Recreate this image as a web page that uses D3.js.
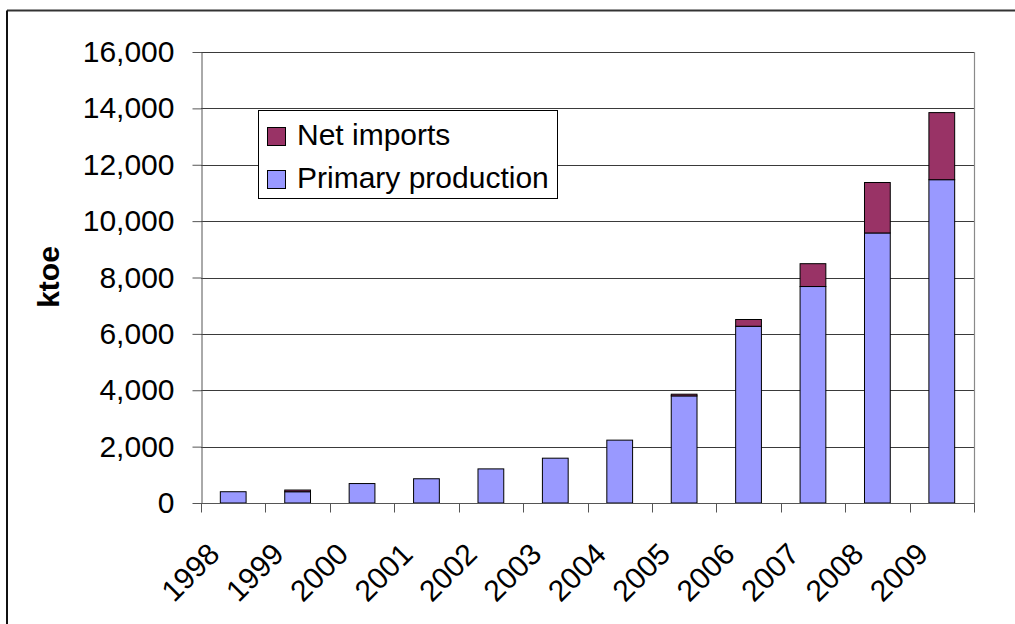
<!DOCTYPE html>
<html lang="en">

<head>
  <meta charset="UTF-8">
  <title>ktoe</title>
  <script src="https://d3js.org/d3.v7.min.js"></script>
  <style>
    body { margin: 0; background: #fff; }
    text { font-family: "Liberation Sans", Arial, sans-serif; fill: #000; }
  </style>
</head>

<body>

  <div id="d3Graph"></div>

  <script>
    var years = ["1998", "1999", "2000", "2001", "2002", "2003", "2004", "2005", "2006", "2007", "2008", "2009"];
    var primaryProduction = [400, 400, 690, 860, 1210, 1590, 2230, 3800, 6270, 7680, 9580, 11470];
    var netImports = [0, 60, 0, 0, 0, 0, 0, 60, 240, 810, 1790, 2380];
    var yTicks = [0, 2000, 4000, 6000, 8000, 10000, 12000, 14000, 16000];
    var seriesNames = ["Net imports", "Primary production"];

    var width = 1015;
    var height = 624;
    var plotLeft = 201, plotRight = 974, plotTop = 52, plotBottom = 503;

    var svg = d3.select("#d3Graph").append("svg")
      .attr("width", width)
      .attr("height", height);

    // cropped frame: only top and left edges visible
    svg.append("line").attr("x1", 7).attr("y1", 10.5).attr("x2", width).attr("y2", 10.5)
      .attr("stroke", "#333").attr("stroke-width", 2);
    svg.append("line").attr("x1", 7).attr("y1", 10.5).attr("x2", 7).attr("y2", height)
      .attr("stroke", "#111").attr("stroke-width", 2);

    var x = d3.scaleBand().domain(years).range([plotLeft, plotRight]).paddingInner(0.6).paddingOuter(0.3);
    var xTickScale = d3.scaleLinear().domain([0, years.length]).range([plotLeft, plotRight]);
    var y = d3.scaleLinear().domain([0, 16000]).range([plotBottom, plotTop]);

    // gridlines
    svg.append("g").selectAll("line").data(yTicks.slice(1)).join("line")
      .attr("x1", plotLeft).attr("x2", plotRight)
      .attr("y1", function (d) { return Math.round(y(d)) + 0.5 })
      .attr("y2", function (d) { return Math.round(y(d)) + 0.5 })
      .attr("stroke", "#3a3a3a").attr("stroke-width", 1);

    // plot area right border
    svg.append("line").attr("x1", plotRight + 0.5).attr("x2", plotRight + 0.5).attr("y1", plotTop).attr("y2", plotBottom)
      .attr("stroke", "#8a8a8a").attr("stroke-width", 1.2);

    var stack = d3.stack().keys(["primary", "imports"]);
    var rows = years.map(function (yr, i) {
      return { year: yr, primary: primaryProduction[i], imports: netImports[i] }
    });
    var layers = stack(rows);
    var colors = { primary: "#9999ff", imports: "#993366" };

    svg.append("g").selectAll("g").data(layers).join("g")
      .attr("fill", function (d) { return colors[d.key] })
      .selectAll("rect").data(function (d) { return d.filter(function (p) { return p[1] > p[0] }) }).join("rect")
      .attr("x", function (d) { return x(d.data.year) })
      .attr("width", x.bandwidth())
      .attr("y", function (d) { return y(d[1]) })
      .attr("height", function (d) { return y(d[0]) - y(d[1]) })
      .attr("stroke", "#000").attr("stroke-width", 1);

    // y axis
    var yAxis = svg.append("g").attr("transform", "translate(" + (plotLeft + 0.5) + ",0)")
      .call(d3.axisLeft(y).tickValues(yTicks).tickSize(9).tickPadding(18).tickFormat(d3.format(",")).tickSizeOuter(0));
    yAxis.select(".domain").attr("stroke", "#555");
    yAxis.selectAll(".tick line").attr("stroke", "#555");
    yAxis.selectAll("text").attr("font-size", 30).attr("font-family", "Liberation Sans, Arial, sans-serif").attr("fill", "#000");

    // x axis with ticks between categories
    var xAxis = svg.append("g").attr("transform", "translate(0," + (plotBottom + 0.5) + ")");
    xAxis.append("line").attr("x1", plotLeft).attr("x2", plotRight + 1).attr("stroke", "#555");
    xAxis.selectAll("line.tk").data(d3.range(years.length + 1)).join("line").attr("class", "tk")
      .attr("x1", function (d) { return Math.round(xTickScale(d)) + 0.5 })
      .attr("x2", function (d) { return Math.round(xTickScale(d)) + 0.5 })
      .attr("y1", 0).attr("y2", 9).attr("stroke", "#555");

    svg.append("g").selectAll("text").data(years).join("text")
      .attr("transform", function (d) {
        return "translate(" + (x(d) + x.bandwidth() / 2 - 12) + "," + 556 + ") rotate(-45)"
      })
      .attr("text-anchor", "end")
      .attr("font-size", 30)
      .text(function (d) { return d });

    // y title
    svg.append("text")
      .attr("transform", "translate(59,277) rotate(-90)")
      .attr("text-anchor", "middle")
      .attr("font-size", 30)
      .attr("font-weight", "bold")
      .text("ktoe");

    // legend
    var legend = svg.append("g");
    legend.append("rect").attr("x", 258.5).attr("y", 110.5).attr("width", 299).attr("height", 88)
      .attr("fill", "#fff").attr("stroke", "#000");
    var legendColors = [colors.imports, colors.primary];
    var item = legend.selectAll("g").data(seriesNames).join("g")
      .attr("transform", function (d, i) { return "translate(0," + (i * 43) + ")" });
    item.append("rect").attr("x", 267.5).attr("y", 127.5).attr("width", 18).attr("height", 18)
      .attr("fill", function (d, i) { return legendColors[i] }).attr("stroke", "#000");
    item.append("text").attr("x", 297).attr("y", 145).attr("font-size", 30)
      .text(function (d) { return d });
  </script>

</body>

</html>
